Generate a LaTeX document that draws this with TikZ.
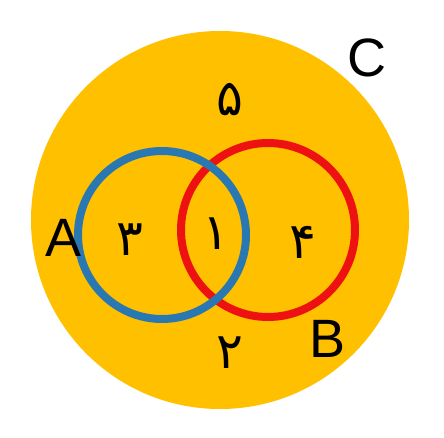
\documentclass[tikz,border=0pt]{standalone}
\usepackage{fontspec}
\setmainfont{Liberation Sans}
\newfontfamily\arabicfont[Script=Arabic]{DejaVu Sans}
\TeXXeTstate=1
\definecolor{vorange}{HTML}{FFC000}
\definecolor{vblue}{HTML}{2A78B2}
\definecolor{vred}{HTML}{EE1111}
\tikzset{
  setletter/.style={font=\fontsize{54}{54}\selectfont, text=black, inner sep=0pt},
  digit/.style={font=\arabicfont\fontsize{50}{50}\selectfont, text=black, inner sep=0pt},
  setring/.style={line width=8pt},
}
\begin{document}
\begin{tikzpicture}[x=1pt,y=-1pt]
\useasboundingbox[fill=white] (0,0) rectangle (444,438);
\fill[vorange] (220,220) circle (189);
\draw[setring, vred] (268,230) circle (87);
\draw[setring, vblue] (162,235) circle (84);
\node[setletter] (A) at (63.5,238) {A};
\node[setletter] (B) at (328,339) {B};
\node[setletter] (C) at (367,58) {C};
\node[digit] (d5) at (230,100) {\beginR ۵\endR};
\node[digit] (d3) at (130,240) {\beginR ۳\endR};
\node[digit] (d1) at (216,234) {\beginR ۱\endR};
\node[digit] (d4) at (303,242) {\beginR ۴\endR};
\node[digit] (d2) at (230,353) {\beginR ۲\endR};
\end{tikzpicture}
\end{document}
